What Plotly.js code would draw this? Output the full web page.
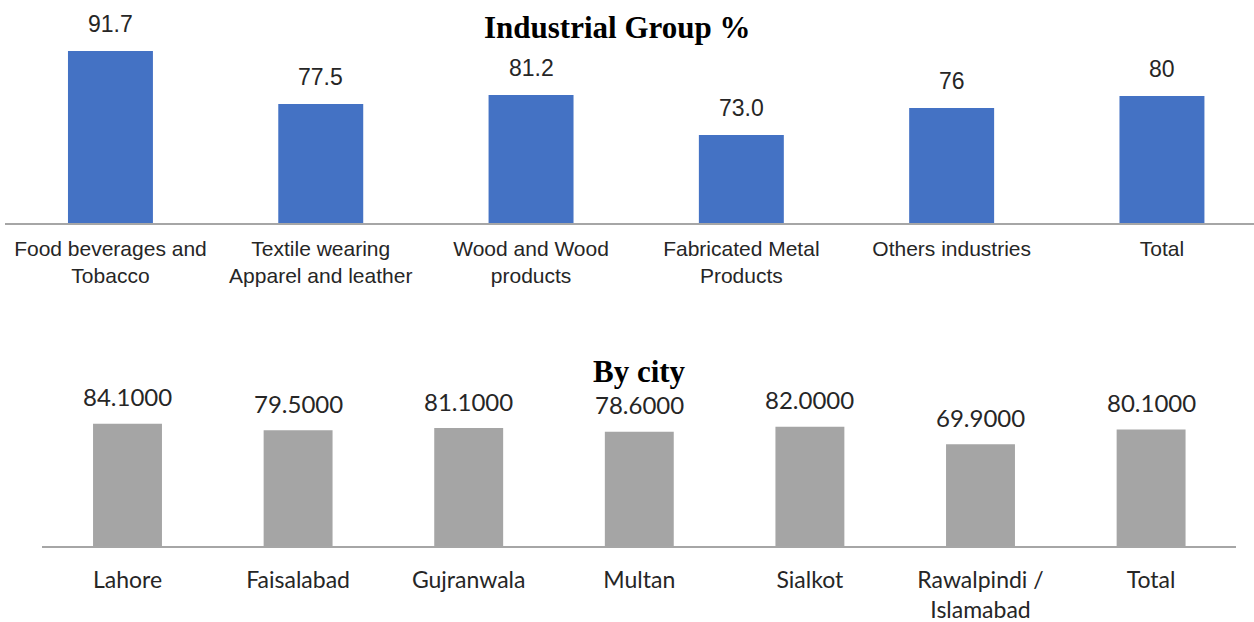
<!DOCTYPE html>
<html>
<head>
<meta charset="utf-8">
<script src="https://cdn.plot.ly/plotly-3.0.1.min.js"></script>
<style>html,body{margin:0;padding:0;background:#fff}#chart{width:1254px;height:622px}</style>
</head>
<body>
<div id="chart"></div>
<script>
// Top panel: Industrial Group %
const groupCats = ['Food beverages and<br>Tobacco', 'Textile wearing<br>Apparel and leather', 'Wood and Wood<br>products', 'Fabricated Metal<br>Products', 'Others industries', 'Total'];
const groupValues = [91.7, 79.9, 81.9, 73.0, 79.0, 81.7];   // bar heights as drawn
const groupLabels = ['91.7', '77.5', '81.2', '73.0', '76', '80']; // data labels as printed

// Bottom panel: By city
const cityCats = ['Lahore', 'Faisalabad', 'Gujranwala', 'Multan', 'Sialkot', 'Rawalpindi /<br>Islamabad', 'Total'];
const cityValues = [84.1, 79.5, 81.1, 78.6, 82.0, 69.9, 80.1];
const cityLabels = cityValues.map(v => v.toFixed(4));

const txtDark = '#262626';
const topFont = 'Liberation Sans, Arial, sans-serif';
const botFont = 'Lato, Carlito, Calibri, sans-serif';
const titleFont = 'Liberation Serif, Times New Roman, serif';

const traces = [
  {type: 'bar', x: groupCats, y: groupValues, xaxis: 'x', yaxis: 'y',
   marker: {color: '#4472C4'}, hoverinfo: 'none', showlegend: false},
  {type: 'bar', x: cityCats, y: cityValues, xaxis: 'x2', yaxis: 'y2',
   marker: {color: '#A5A5A5'}, hoverinfo: 'none', showlegend: false}
];

const annotations = [];
groupCats.forEach((c, i) => annotations.push({
  x: c, y: groupValues[i], xref: 'x', yref: 'y', text: groupLabels[i],
  showarrow: false, yanchor: 'middle', yshift: 27,
  font: {family: topFont, size: 23, color: txtDark}
}));
cityCats.forEach((c, i) => annotations.push({
  x: c, y: cityValues[i], xref: 'x2', yref: 'y2', text: cityLabels[i],
  showarrow: false, yanchor: 'middle', yshift: 27,
  font: {family: botFont, size: 24, color: txtDark}
}));
annotations.push({
  text: '<b>Industrial Group %</b>', xref: 'paper', yref: 'paper',
  x: 617 / 1254, y: 1 - 28 / 622, xanchor: 'center', yanchor: 'middle', showarrow: false,
  font: {family: titleFont, size: 31, color: '#000'}
});
annotations.push({
  text: '<b>By city</b>', xref: 'paper', yref: 'paper',
  x: 639 / 1254, y: 1 - 371 / 622, xanchor: 'center', yanchor: 'middle', showarrow: false,
  font: {family: titleFont, size: 31, color: '#000'}
});

const layout = {
  width: 1254, height: 622,
  margin: {l: 0, r: 0, t: 0, b: 0},
  paper_bgcolor: '#fff', plot_bgcolor: '#fff',
  bargap: 0.596,
  xaxis: {
    domain: [5.3 / 1254, 1], range: [-0.5, -0.5 + (1254 - 5.3) / 210.3],
    showline: true, linecolor: '#A6A6A6', linewidth: 1.5, showgrid: false, zeroline: false,
    ticks: '', ticklabelstandoff: 6,
    tickfont: {family: topFont, size: 21, color: txtDark}, fixedrange: true
  },
  yaxis: {
    domain: [(622 - 223) / 622, (622 - 40) / 622], range: [53.4, 94.16],
    visible: false, showgrid: false, zeroline: false, fixedrange: true
  },
  xaxis2: {
    domain: [42.2 / 1254, 1236.4 / 1254], range: [-0.5, 6.5], anchor: 'y2',
    showline: true, linecolor: '#A6A6A6', linewidth: 1.5, showgrid: false, zeroline: false,
    ticks: '', ticklabelstandoff: 13,
    tickfont: {family: botFont, size: 23, color: txtDark}, fixedrange: true
  },
  yaxis2: {
    domain: [(622 - 546) / 622, (622 - 400) / 622], range: [0, 100.34], anchor: 'x2',
    visible: false, showgrid: false, zeroline: false, fixedrange: true
  },
  annotations: annotations
};

Plotly.newPlot('chart', traces, layout, {displayModeBar: false, staticPlot: true});
</script>
</body>
</html>
